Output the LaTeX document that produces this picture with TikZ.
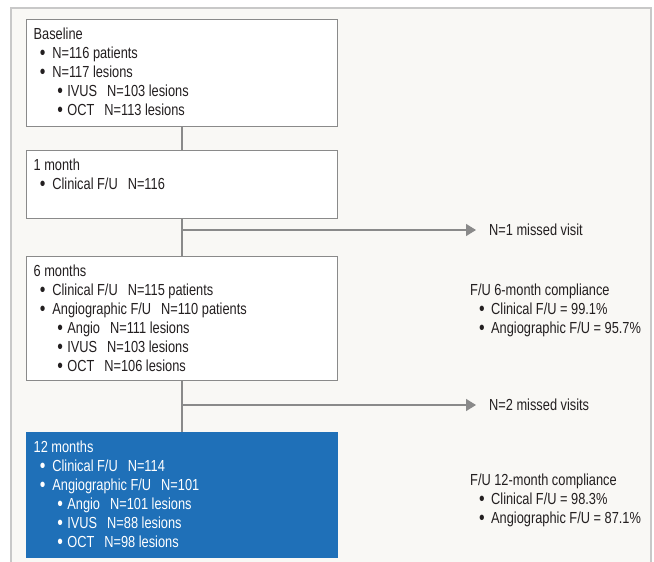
\documentclass[tikz,border=0pt]{standalone}
\usepackage{fontspec}
\setmainfont{Liberation Sans}[FakeStretch=0.8]
\usepackage{tikz}
\usetikzlibrary{
  positioning,
  calc,
  arrows.meta
}
\definecolor{panelbg}{HTML}{F9F8F5}
\definecolor{panelline}{HTML}{C8C8C8}
\definecolor{boxline}{HTML}{8A8A8A}
\definecolor{connline}{HTML}{8A8A8A}
\definecolor{stageblue}{HTML}{1F70B8}
\definecolor{txt}{HTML}{231F20}

\tikzstyle{stage}=[draw=boxline, line width=1.3pt, fill=white, anchor=north west, inner xsep=7pt, inner ysep=6.5pt, text=txt]
\tikzstyle{laststage}=[stage, fill=stageblue, draw=stageblue, text=white]
\tikzstyle{conn}=[draw=connline, line width=1.4pt]
\tikzstyle{missarrow}=[conn, -{Triangle[length=10pt, width=12pt]}, shorten >=13pt]
\tikzstyle{note}=[anchor=north west, inner sep=0pt, text=txt]
\tikzstyle{missnote}=[anchor=west, inner sep=0pt, text=txt, font=\fontsize{16}{18}\selectfont]

\newcommand{\stagetext}[2]{\parbox[c][#1pt][t]{297pt}{\fontsize{16}{19}\selectfont\rule{0pt}{13.2pt}#2}}
\newcommand{\notetext}[1]{\parbox[t]{180pt}{\fontsize{16}{18.8}\selectfont\rule{0pt}{13.2pt}#1}}
\newcommand{\bdot}{\smash{\raisebox{-1.2pt}{\scalebox{1.25}{\textbullet}}}}
\newcommand{\bl}{\hspace*{6.3pt}\makebox[12.4pt][l]{\bdot}}
\newcommand{\blb}{\hspace*{23.7pt}\makebox[10pt][l]{\bdot}}
\newcommand{\blc}{\hspace*{9pt}\makebox[12pt][l]{\bdot}}
\newcommand{\gap}{\hspace{10pt}}

\begin{document}
\begin{tikzpicture}[x=1pt, y=-1pt]
        \useasboundingbox (0,0) rectangle (654,562);

        % 背景のパネル
        \fill[panelbg] (11,8) rectangle (651,575);
        \draw[panelline, line width=1.5pt] (11,575) -- (11,8) -- (651,8) -- (651,575);

        % 各時点のボックス
        \node[stage] (base) at (26,19) {\stagetext{94}{Baseline\\
            \bl N=116 patients\\
            \bl N=117 lesions\\
            \blb IVUS\gap N=103 lesions\\
            \blb OCT\gap N=113 lesions}};
        \node[stage] (m1) at (26,150) {\stagetext{55}{1 month\\
            \bl Clinical F/U\gap N=116}};
        \node[stage] (m6) at (26,256) {\stagetext{111}{6 months\\
            \bl Clinical F/U\gap N=115 patients\\
            \bl Angiographic F/U\gap N=110 patients\\
            \blb Angio\gap N=111 lesions\\
            \blb IVUS\gap N=103 lesions\\
            \blb OCT\gap N=106 lesions}};
        \node[laststage] (m12) at (26,432) {\stagetext{112}{12 months\\
            \bl Clinical F/U\gap N=114\\
            \bl Angiographic F/U\gap N=101\\
            \blb Angio\gap N=101 lesions\\
            \blb IVUS\gap N=88 lesions\\
            \blb OCT\gap N=98 lesions}};

        % 脱落の注記
        \node[missnote] (miss1) at (489,230) {N=1 missed visit};
        \node[missnote] (miss2) at (489,405) {N=2 missed visits};

        % 遵守率
        \node[note] (comp6) at (470,282) {\notetext{F/U 6-month compliance\\
            \blc Clinical F/U = 99.1\%\\
            \blc Angiographic F/U = 95.7\%}};
        \node[note] (comp12) at (470,472) {\notetext{F/U 12-month compliance\\
            \blc Clinical F/U = 98.3\%\\
            \blc Angiographic F/U = 87.1\%}};

        % 分岐点
        \coordinate (br1) at (m1.south |- miss1.west);
        \coordinate (br2) at (m6.south |- miss2.west);

        % 縦の線
        \draw[conn] (base.south) -- (m1.north);
        \draw[conn] (m1.south) -- (m6.north);
        \draw[conn] (m6.south) -- (m12.north);

        % 脱落への矢印
        \draw[missarrow] (br1) -- (miss1.west);
        \draw[missarrow] (br2) -- (miss2.west);
      \end{tikzpicture}
\end{document}
